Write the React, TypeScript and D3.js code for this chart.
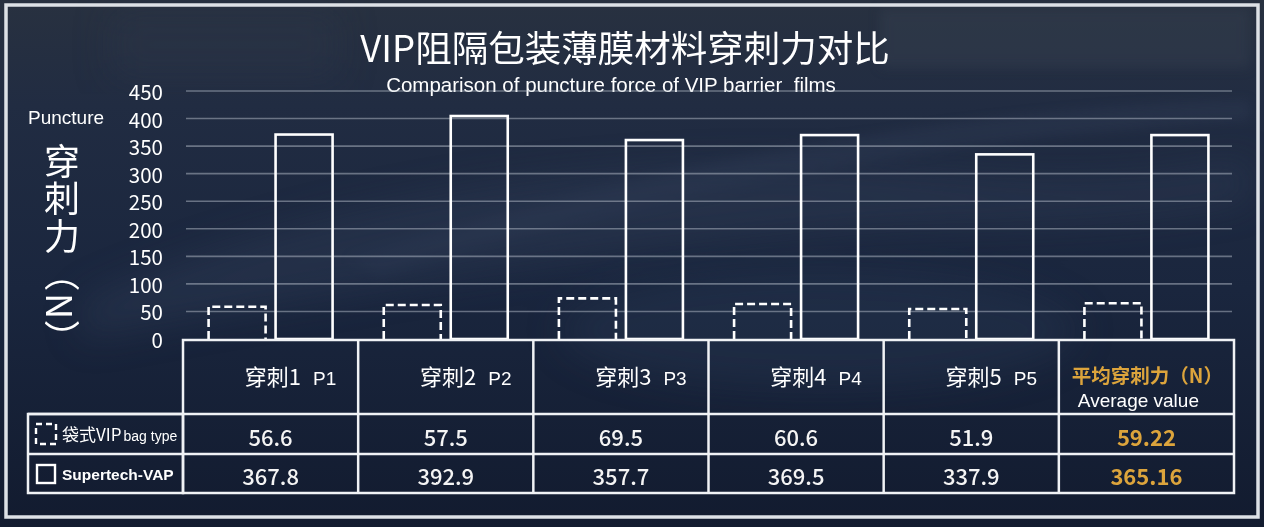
import React, { useEffect } from "react";
import * as d3 from "d3";

// Column headers of the table (and bar categories)
const headerCn = ["穿刺1", "穿刺2", "穿刺3", "穿刺4", "穿刺5"];
const headerEn = ["P1", "P2", "P3", "P4", "P5"];
const avgHeaderCn = "平均穿刺力（N）";
const avgHeaderEn = "Average value";
const categories = ["P1", "P2", "P3", "P4", "P5", "AVG"];

// Table values as printed
const bagTable = ["56.6", "57.5", "69.5", "60.6", "51.9", "59.22"];
const vapTable = ["367.8", "392.9", "357.7", "369.5", "337.9", "365.16"];

// Bar heights as drawn in the chart (N)
const bagBars = [58.6, 61.7, 73.8, 63.5, 54.4, 64.8];
const vapBars = [371, 404.6, 361, 370, 335, 370];

const yTicks = [0, 50, 100, 150, 200, 250, 300, 350, 400, 450];

const W = 1264;
const H = 527;
const CJK = "'Noto Sans CJK SC', 'Noto Sans', sans-serif";
const LAT = "'Liberation Sans', Arial, sans-serif";
const GOLD = "#dca43c";
const LINE = "#f0f2f5";

export default function App() {
  useEffect(() => {
    document.body.style.margin = "0";
    document.body.style.background = "#141d31";
  }, []);

  // table geometry
  const tableLeft = 183;
  const tableRight = 1234;
  const legendLeft = 28;
  const headTop = 340;
  const row1Top = 414;
  const row2Top = 454;
  const tableBottom = 493;

  const x = d3
    .scaleBand<string>()
    .domain(categories)
    .range([tableLeft, tableRight])
    .padding(0);
  const inner = d3
    .scaleBand<string>()
    .domain(["bag", "vap"])
    .range([0, 124])
    .paddingInner(0.149);
  const y = d3.scaleLinear().domain([0, 450]).range([339, 91]);

  const colEdges = categories.map((c) => x(c)!).concat([tableRight]);
  const cx = (i: number) => x(categories[i])! + x.bandwidth() / 2;

  return (
    <svg
      width={W}
      height={H}
      viewBox={`0 0 ${W} ${H}`}
      style={{ position: "fixed", left: 0, top: 0, display: "block" }}
    >
      <defs>
        <linearGradient id="bg" x1="0" y1="0" x2="0" y2="1">
          <stop offset="0" stopColor="#283140" />
          <stop offset="0.2" stopColor="#212c42" />
          <stop offset="0.55" stopColor="#1a263e" />
          <stop offset="1" stopColor="#121b2f" />
        </linearGradient>
        <filter id="blur" x="-20%" y="-20%" width="140%" height="140%">
          <feGaussianBlur stdDeviation="18" />
        </filter>
        <filter id="blur2" x="-20%" y="-20%" width="140%" height="140%">
          <feGaussianBlur stdDeviation="6" />
        </filter>
      </defs>

      {/* background */}
      <rect x={0} y={0} width={W} height={H} fill="url(#bg)" />
      <g opacity={0.35}>
        <rect x={880} y={8} width={370} height={60} fill="#3a4454" filter="url(#blur2)" />
        <rect x={110} y={10} width={230} height={70} fill="#2f394b" filter="url(#blur)" />
        <path
          d="M80,300 C300,200 600,150 900,170 C1000,175 1100,190 1250,160 L1250,200 C1100,230 950,220 850,230 C600,250 350,290 80,340 Z"
          fill="#34435c"
          filter="url(#blur)"
        />
        <path
          d="M350,260 C600,180 900,110 1250,100 L1250,120 C900,140 650,200 380,275 Z"
          fill="#44536e"
          filter="url(#blur2)"
          opacity={0.5}
        />
        <ellipse cx={820} cy={330} rx={260} ry={60} fill="#2c3a55" filter="url(#blur)" />
      </g>

      {/* outer frame */}
      <rect
        x={6}
        y={5}
        width={1252}
        height={512}
        fill="none"
        stroke="#dde1e6"
        strokeWidth={3.5}
      />

      {/* title */}
      <text
        x={625}
        y={62}
        textAnchor="middle"
        fill="#ffffff"
        fontFamily={CJK}
        fontSize={36.5}
      >
        VIP阻隔包装薄膜材料穿刺力对比
      </text>
      <text
        x={611}
        y={92}
        textAnchor="middle"
        fill="#ffffff"
        fontFamily={LAT}
        fontSize={20.5}
        style={{ whiteSpace: "pre" }}
      >
        Comparison of puncture force of VIP barrier  films
      </text>

      {/* gridlines */}
      {yTicks
        .filter((t) => t > 0)
        .map((t) => (
          <line
            key={t}
            x1={186}
            x2={1232}
            y1={y(t)}
            y2={y(t)}
            stroke="#c5ccd8"
            strokeOpacity={0.45}
            strokeWidth={1.6}
          />
        ))}

      {/* y tick labels */}
      {yTicks.map((t) => (
        <text
          key={t}
          x={163}
          y={y(t)}
          textAnchor="end"
          dominantBaseline="central"
          fill="#ffffff"
          fontFamily={CJK}
          fontSize={20.5}
        >
          {t}
        </text>
      ))}

      {/* y axis titles */}
      <text x={28} y={124} fill="#ffffff" fontFamily={LAT} fontSize={19}>
        Puncture
      </text>
      <text
        x={62}
        y={143}
        fill="#ffffff"
        fontFamily={CJK}
        fontSize={36}
        letterSpacing={1.5}
        style={{ writingMode: "vertical-rl" }}
      >
        穿刺力（N）
      </text>

      {/* bars */}
      {categories.map((c, i) => {
        const g0 = cx(i) - 62;
        const bx = g0 + inner("bag")!;
        const vx = g0 + inner("vap")!;
        const bw = inner.bandwidth();
        return (
          <g key={c}>
            <path
              d={`M${bx},${y(0)} V${y(bagBars[i])} H${bx + bw} V${y(0)}`}
              fill="none"
              stroke="#ffffff"
              strokeWidth={2.6}
              strokeDasharray="8 4"
            />
            <rect
              x={vx}
              y={y(vapBars[i])}
              width={bw}
              height={y(0) - y(vapBars[i])}
              fill="none"
              stroke="#ffffff"
              strokeWidth={2.6}
            />
          </g>
        );
      })}

      {/* table */}
      <g stroke={LINE} strokeWidth={2.5} fill="none">
        <rect x={tableLeft} y={headTop} width={tableRight - tableLeft} height={tableBottom - headTop} />
        <rect x={legendLeft} y={row1Top} width={tableLeft - legendLeft} height={tableBottom - row1Top} />
        <line x1={legendLeft} x2={tableRight} y1={row1Top} y2={row1Top} />
        <line x1={legendLeft} x2={tableRight} y1={row2Top} y2={row2Top} />
        {colEdges.slice(1, -1).map((e, i) => (
          <line key={i} x1={e} x2={e} y1={headTop} y2={tableBottom} />
        ))}
      </g>

      {/* header */}
      {headerCn.map((h, i) => (
        <text
          key={h}
          x={cx(i) + 20}
          y={385}
          textAnchor="middle"
          fill="#ffffff"
          fontFamily={CJK}
          fontSize={22}
        >
          {h}
          <tspan dx={12} fontFamily={LAT} fontSize={19}>
            {headerEn[i]}
          </tspan>
        </text>
      ))}
      <text
        x={cx(5) + 1}
        y={383}
        textAnchor="middle"
        fill={GOLD}
        fontFamily={CJK}
        fontWeight={700}
        fontSize={19.5}
      >
        {avgHeaderCn}
      </text>
      <text
        x={cx(5) - 8}
        y={407}
        textAnchor="middle"
        fill="#ffffff"
        fontFamily={LAT}
        fontSize={19}
      >
        {avgHeaderEn}
      </text>

      {/* values */}
      {[bagTable, vapTable].map((row, r) =>
        row.map((v, i) => (
          <text
            key={`${r}-${i}`}
            x={cx(i)}
            y={(r === 0 ? (row1Top + row2Top) / 2 : (row2Top + tableBottom) / 2) + 1.5}
            textAnchor="middle"
            dominantBaseline="central"
            fill={i === 5 ? GOLD : "#f4f4f4"}
            fontFamily={CJK}
            fontWeight={i === 5 ? 700 : 500}
            fontSize={22}
          >
            {v}
          </text>
        ))
      )}

      {/* legend cells */}
      <rect
        x={36}
        y={424}
        width={20}
        height={20}
        fill="none"
        stroke="#ffffff"
        strokeWidth={2.4}
        strokeDasharray="6 4"
      />
      <text x={62} y={441} fill="#ffffff" fontFamily={CJK} fontSize={17}>
        袋式VIP
        <tspan dx={2} fontFamily={LAT} fontSize={14}>
          bag type
        </tspan>
      </text>
      <rect x={37} y={465} width={18} height={18} fill="none" stroke="#ffffff" strokeWidth={2.4} />
      <text
        x={62}
        y={480}
        fill="#ffffff"
        fontFamily={LAT}
        fontWeight={700}
        fontSize={15.5}
      >
        Supertech-VAP
      </text>
    </svg>
  );
}
